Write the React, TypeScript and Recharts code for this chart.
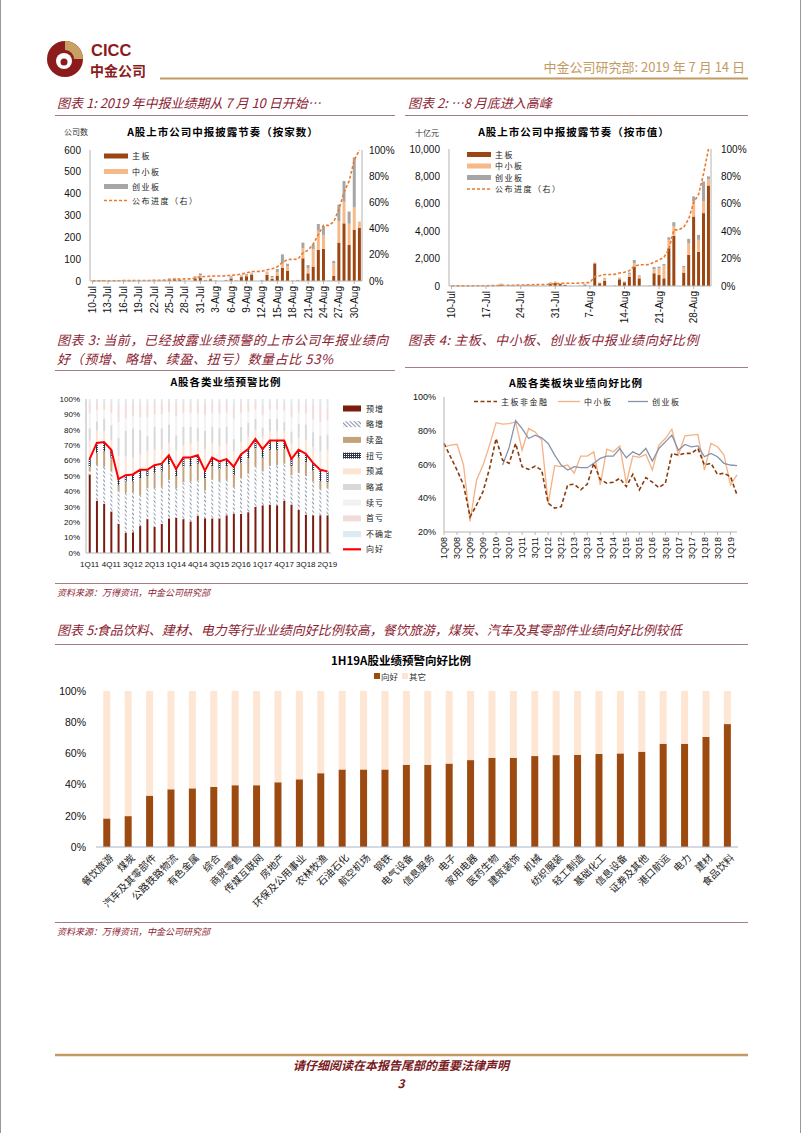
import React from "react";
import { ComposedChart, BarChart, LineChart, Bar, Line, XAxis, YAxis } from "recharts";

const CJK = '"Noto Sans CJK SC", "Noto Sans", sans-serif';
const LAT = '"Liberation Sans", Arial, sans-serif';
const RED = "#8B2332";
const GOLD = "#C39A62";
const RULE = "#A57D82";
const AXIS = "#B4B4B4";

// 图表1/2 日期
const days = [
  "10-Jul", "11-Jul", "12-Jul", "13-Jul", "14-Jul", "15-Jul", "16-Jul", "17-Jul", "18-Jul", "19-Jul", "20-Jul",
  "21-Jul", "22-Jul", "23-Jul", "24-Jul", "25-Jul", "26-Jul", "27-Jul", "28-Jul", "29-Jul", "30-Jul", "31-Jul",
  "1-Aug", "2-Aug", "3-Aug", "4-Aug", "5-Aug", "6-Aug", "7-Aug", "8-Aug", "9-Aug", "10-Aug", "11-Aug",
  "12-Aug", "13-Aug", "14-Aug", "15-Aug", "16-Aug", "17-Aug", "18-Aug", "19-Aug", "20-Aug", "21-Aug",
  "22-Aug", "23-Aug", "24-Aug", "25-Aug", "26-Aug", "27-Aug", "28-Aug", "29-Aug", "30-Aug", "31-Aug",
];

// 图表1 按家数
const cntMain = [1, 1, 2, 0, 0, 1, 2, 1, 0, 1, 0, 0, 2, 1, 3, 6, 8, 5, 1, 0, 12, 15, 3, 8, 1, 0, 3, 12, 2, 18, 22, 30, 0, 2, 28, 10, 25, 61, 47, 1, 3, 104, 35, 66, 142, 148, 1, 24, 176, 264, 165, 235, 244];
const cntSme = [1, 0, 1, 0, 0, 1, 1, 1, 1, 1, 0, 0, 1, 1, 2, 5, 4, 2, 1, 0, 7, 10, 1, 3, 1, 0, 1, 5, 1, 5, 6, 5, 0, 1, 12, 8, 15, 20, 22, 1, 1, 46, 23, 79, 88, 63, 1, 57, 99, 99, 97, 102, 28];
const cntGem = [0, 0, 0, 0, 0, 0, 1, 0, 0, 1, 0, 0, 1, 0, 1, 2, 2, 1, 0, 0, 3, 10, 1, 1, 1, 0, 1, 5, 0, 3, 4, 3, 0, 2, 3, 5, 15, 41, 10, 0, 1, 26, 15, 23, 31, 41, 0, 11, 75, 95, 56, 229, 0];
const cntProgress = [0.001, 0.001, 0.002, 0.002, 0.002, 0.002, 0.003, 0.003, 0.003, 0.004, 0.004, 0.004, 0.005, 0.005, 0.006, 0.009, 0.013, 0.015, 0.016, 0.016, 0.022, 0.032, 0.034, 0.037, 0.038, 0.038, 0.039, 0.045, 0.046, 0.053, 0.062, 0.073, 0.073, 0.074, 0.086, 0.093, 0.108, 0.142, 0.164, 0.165, 0.166, 0.215, 0.235, 0.282, 0.355, 0.425, 0.425, 0.451, 0.548, 0.676, 0.764, 0.924, 1.0];

// 图表2 按市值（十亿元）
const capMain = [8, 5, 10, 0, 0, 6, 12, 8, 6, 10, 90, 0, 30, 20, 30, 50, 40, 30, 0, 10, 180, 230, 150, 80, 10, 0, 20, 60, 10, 1650, 200, 370, 0, 20, 490, 270, 680, 1410, 560, 5, 20, 930, 800, 560, 2760, 3660, 5, 980, 2270, 5070, 2500, 5320, 7340];
const capSme = [3, 2, 4, 0, 0, 3, 5, 3, 2, 4, 60, 0, 20, 15, 15, 20, 15, 20, 0, 5, 60, 60, 40, 15, 5, 0, 10, 40, 5, 50, 50, 170, 0, 10, 100, 70, 200, 250, 170, 3, 10, 290, 490, 930, 610, 680, 5, 360, 850, 1100, 870, 850, 460];
const capGem = [2, 1, 2, 0, 0, 1, 2, 1, 1, 3, 20, 0, 10, 5, 5, 10, 5, 10, 0, 2, 30, 30, 10, 5, 2, 0, 5, 50, 2, 10, 10, 50, 0, 5, 20, 15, 100, 240, 50, 0, 5, 170, 120, 120, 190, 320, 0, 120, 320, 370, 360, 1460, 200];
const capProgress = [0.0005, 0.001, 0.001, 0.001, 0.001, 0.002, 0.002, 0.002, 0.003, 0.003, 0.005, 0.005, 0.006, 0.006, 0.007, 0.008, 0.009, 0.01, 0.01, 0.01, 0.013, 0.017, 0.019, 0.02, 0.02, 0.02, 0.021, 0.024, 0.025, 0.07, 0.075, 0.084, 0.084, 0.085, 0.095, 0.1, 0.112, 0.145, 0.155, 0.155, 0.156, 0.175, 0.19, 0.21, 0.27, 0.41, 0.41, 0.43, 0.49, 0.61, 0.67, 0.82, 1.0];

// 图表3 业绩预警比例（%）
const q3 = ["1Q11", "2Q11", "3Q11", "4Q11", "1Q12", "2Q12", "3Q12", "4Q12", "1Q13", "2Q13", "3Q13", "4Q13", "1Q14", "2Q14", "3Q14", "4Q14", "1Q15", "2Q15", "3Q15", "4Q15", "1Q16", "2Q16", "3Q16", "4Q16", "1Q17", "2Q17", "3Q17", "4Q17", "1Q18", "2Q18", "3Q18", "4Q18", "1Q19", "2Q19"];
const yuZeng = [51, 34, 32, 27, 19, 13, 13.5, 17.5, 22, 17, 19, 22.5, 23, 22, 20.5, 24, 22.5, 22.5, 22.5, 24.5, 25.5, 25.5, 26.5, 30, 31, 31.5, 31, 34, 31.5, 28, 25, 24.5, 24.5, 24.5];
const lueZeng = [2, 23, 24, 26, 21, 26, 26, 20, 20, 25, 24, 25, 19, 24, 26, 23, 18, 25, 24, 23, 17, 23, 25, 26, 22, 25, 26, 24, 19, 24, 25, 22, 17, 17.5];
const xuYing = [3, 8, 10, 9, 4, 7.5, 7, 11, 8, 10, 10, 10, 8, 10, 10, 11, 8, 9, 8, 9, 8, 10, 10, 12, 9, 10.5, 10, 9.5, 6, 10, 9, 7, 5, 4];
const niuKui = [5, 6.5, 6, 5, 4, 4, 4.5, 5.5, 4, 5, 5, 6, 4.5, 6, 5.5, 5.5, 5, 5.5, 5, 4.5, 5.5, 5.5, 6, 6, 5.5, 6, 6, 5.5, 4.5, 5, 5.5, 5, 7.5, 7];
const yuJian = [12, 8, 7, 6, 15, 12, 11, 10, 12, 10, 9, 8, 12, 8, 9, 9, 14, 9, 10, 10, 10, 8, 8, 6, 8, 6, 6, 6, 10, 8, 9, 10, 12, 14];
const lueJian = [8, 6, 8, 10, 12, 17, 19, 16, 10, 15, 14, 12, 10, 12, 11, 9, 12, 11, 12, 11, 8, 10, 9, 7, 6, 8, 8, 6, 8, 9, 10, 10, 10, 10];
const xuKui = [10, 7, 6, 8, 10, 8, 8, 8, 12, 8, 9, 8, 12, 9, 9, 9, 10, 9, 9, 9, 13, 9, 7, 6, 8, 6, 6, 7, 9, 7, 7, 8, 9, 9];
const shouKui = [6, 5.5, 5, 7, 11, 9.5, 9, 9, 9, 8, 8, 7, 9, 7, 7, 7, 8, 7, 7, 7, 9, 7, 6, 5, 7, 5, 5, 6, 8, 7, 7, 10, 11, 8];
const buQueDing = [3, 2, 2, 2, 4, 3, 2, 3, 3, 2, 2, 1.5, 2.5, 2, 2, 2.5, 2.5, 2, 2.5, 2, 4, 2, 2.5, 2, 3.5, 2, 2, 2, 4, 2, 2.5, 3.5, 4, 6];
const xiangHao = [61, 71.5, 72, 67, 48, 50.5, 51, 54, 54, 57, 58, 63.5, 54.5, 62, 62, 63.5, 53.5, 62, 59.5, 61, 56, 64, 67.5, 74, 67.5, 73, 73, 73, 61, 67, 64.5, 58.5, 54, 53];

// 图表4 板块向好比例（%）
const q4 = ["1Q08", "2Q08", "3Q08", "4Q08", "1Q09", "2Q09", "3Q09", "4Q09", "1Q10", "2Q10", "3Q10", "4Q10", "1Q11", "2Q11", "3Q11", "4Q11", "1Q12", "2Q12", "3Q12", "4Q12", "1Q13", "2Q13", "3Q13", "4Q13", "1Q14", "2Q14", "3Q14", "4Q14", "1Q15", "2Q15", "3Q15", "4Q15", "1Q16", "2Q16", "3Q16", "4Q16", "1Q17", "2Q17", "3Q17", "4Q17", "1Q18", "2Q18", "3Q18", "4Q18", "1Q19", "2Q19"];
const mainNonFin = [72.5, 64.6, 56.7, 47.9, 29, 36, 44, 57.7, 75.4, 62.6, 60.7, 72.5, 58.7, 57.1, 59, 56.7, 37, 34.1, 35.1, 47.9, 48.3, 45, 48.3, 60.7, 51.2, 48.9, 49.5, 51.8, 46.9, 54.2, 45, 52.2, 49.5, 46.3, 48.9, 66.6, 65.6, 66.6, 66.6, 69.5, 59.7, 60.7, 54.2, 54.8, 52.8, 42];
const smeBoard = [70.5, 71.5, 72, 59.7, 26.3, 50.8, 59.7, 71.5, 84.8, 83.9, 84.2, 85.2, 68.5, 81.3, 79.3, 74.4, 37, 59.3, 58.7, 59.7, 54.8, 65, 65, 67.5, 47.9, 69.1, 67.5, 70.9, 48.9, 65, 64.2, 66, 56.7, 71.5, 75.4, 80.9, 65.6, 77, 77.4, 77.8, 56.7, 72.5, 70.5, 65.6, 47.9, 53.8];
const gemBoard = [null, null, null, null, null, null, null, null, null, 59.7, 70, 86, 81.3, 75.4, 77.4, 75.8, 72.5, 65.6, 59.7, 56.7, 58.7, 58.1, 58.1, 60.7, 63.6, 65, 65, 69.5, 64, 67.5, 65.6, 69.5, 62, 69.5, 73.4, 77.4, 68.5, 71.9, 70.5, 71, 64.6, 66.6, 64.6, 60.7, 59.7, 59.3];

// 图表5 行业向好比例（%）
const industries = ["餐饮旅游", "煤炭", "汽车及其零部件", "公路铁路物流", "有色金属", "综合", "商贸零售", "传媒互联网", "房地产", "环保及公用事业", "农林牧渔", "石油石化", "航空机场", "钢铁", "电气设备", "信息服务", "电子", "家用电器", "医药生物", "建筑装饰", "机械", "纺织服装", "轻工制造", "基础化工", "信息设备", "证券及其他", "港口航运", "电力", "建材", "食品饮料"];
const goodShare = [18.3, 19.8, 32.9, 37, 37.6, 38.5, 39.6, 39.6, 41.5, 43.4, 47.3, 49.7, 49.7, 49.7, 52.7, 52.7, 53.5, 55.7, 57.2, 57.2, 58.3, 58.9, 59.1, 59.6, 60, 61.1, 66.2, 66.2, 70.5, 78.8];
const otherShare = [81.7, 80.2, 67.1, 63, 62.4, 61.5, 60.4, 60.4, 58.5, 56.6, 52.7, 50.3, 50.3, 50.3, 47.3, 47.3, 46.5, 44.3, 42.8, 42.8, 41.7, 41.1, 40.9, 40.4, 40, 38.9, 33.8, 33.8, 29.5, 21.2];

const data1 = days.map((d, i) => ({ day: d, main: cntMain[i], sme: cntSme[i], gem: cntGem[i], prog: cntProgress[i] }));
const data2 = days.map((d, i) => ({ day: d, main: capMain[i], sme: capSme[i], gem: capGem[i], prog: capProgress[i] }));
const data3 = q3.map((q, i) => ({
  q, yz: yuZeng[i], lz: lueZeng[i], xy: xuYing[i], nk: niuKui[i], yj: yuJian[i], lj: lueJian[i], xk: xuKui[i], sk: shouKui[i], bq: buQueDing[i], good: xiangHao[i],
}));
const data4 = q4.map((q, i) => ({ q, main: mainNonFin[i], sme: smeBoard[i], gem: gemBoard[i] }));
const data5 = industries.map((n, i) => ({ name: n, good: goodShare[i], other: otherShare[i] }));

const C_MAIN = "#9C4712";
const C_SME = "#F7B988";
const C_GEM = "#A6A6A6";
const C_PROG = "#EC7A2E";

const pct = (v: number) => `${Math.round(v * 100)}%`;
const pctN = (v: number) => `${v}%`;
const tickNum = (size: number) => ({ fontSize: size, fill: "#111", fontFamily: LAT });

function VTick(props: any) {
  const { x, y, payload, fs } = props;
  return (
    <text x={x} y={y} transform={`rotate(-90 ${x} ${y})`} textAnchor="end" dy="0.35em" fontSize={fs || 10} fontFamily={LAT} fill="#111">
      {payload.value}
    </text>
  );
}

function DTick(props: any) {
  const { x, y, payload } = props;
  const tx = x + 5;
  const ty = y + 1;
  return (
    <text x={tx} y={ty} transform={`rotate(-45 ${tx} ${ty})`} textAnchor="end" dy="0.35em" fontSize={10} fontFamily={CJK} fill="#222">
      {payload.value}
    </text>
  );
}

function Chart1() {
  return (
    <div style={{ position: "absolute", left: 55, top: 140 }}>
      <ComposedChart width={340} height={185} data={data1} margin={{ top: 10, right: 0, bottom: 4, left: 0 }} barCategoryGap="20%">
        <XAxis dataKey="day" interval={2} tick={(p: any) => <VTick {...p} />} height={40} tickSize={3} stroke={AXIS} />
        <YAxis yAxisId="l" domain={[0, 600]} ticks={[0, 100, 200, 300, 400, 500, 600]} width={35} tickSize={0} tickMargin={9} tick={tickNum(10)} stroke={AXIS} />
        <YAxis yAxisId="r" orientation="right" domain={[0, 1]} ticks={[0, 0.2, 0.4, 0.6, 0.8, 1]} tickFormatter={pct} width={33} tickSize={0} tickMargin={7} tick={tickNum(10)} stroke={AXIS} />
        <Bar yAxisId="l" dataKey="main" stackId="s" fill={C_MAIN} isAnimationActive={false} />
        <Bar yAxisId="l" dataKey="sme" stackId="s" fill={C_SME} isAnimationActive={false} />
        <Bar yAxisId="l" dataKey="gem" stackId="s" fill={C_GEM} isAnimationActive={false} />
        <Line yAxisId="r" dataKey="prog" type="linear" stroke={C_PROG} strokeWidth={1.6} strokeDasharray="3 2" dot={false} isAnimationActive={false} />
      </ComposedChart>
    </div>
  );
}

function Chart2() {
  return (
    <div style={{ position: "absolute", left: 400, top: 140 }}>
      <ComposedChart width={360} height={185} data={data2} margin={{ top: 9, right: 0, bottom: 2, left: 0 }} barCategoryGap="18%">
        <XAxis dataKey="day" interval={6} tick={(p: any) => <VTick {...p} />} height={37} tickSize={3} stroke={AXIS} />
        <YAxis yAxisId="l" domain={[0, 10000]} ticks={[0, 2000, 4000, 6000, 8000, 10000]} tickFormatter={(v: number) => v.toLocaleString("en-US")} width={49} tickSize={0} tickMargin={9} tick={tickNum(10)} stroke={AXIS} />
        <YAxis yAxisId="r" orientation="right" domain={[0, 1]} ticks={[0, 0.2, 0.4, 0.6, 0.8, 1]} tickFormatter={pct} width={49} tickSize={0} tickMargin={10} tick={tickNum(10)} stroke={AXIS} />
        <Bar yAxisId="l" dataKey="main" stackId="s" fill={C_MAIN} isAnimationActive={false} />
        <Bar yAxisId="l" dataKey="sme" stackId="s" fill={C_SME} isAnimationActive={false} />
        <Bar yAxisId="l" dataKey="gem" stackId="s" fill={C_GEM} isAnimationActive={false} />
        <Line yAxisId="r" dataKey="prog" type="linear" stroke={C_PROG} strokeWidth={1.6} strokeDasharray="3 2" dot={false} isAnimationActive={false} />
      </ComposedChart>
    </div>
  );
}

const C3 = {
  yz: "#7A1C0F", xy: "#C4A37B", yj: "#FCE4D4", lj: "#D9D9D9", xk: "#F2F2F2", sk: "#F2DCDB", bq: "#DCEBF1",
};

function Patterns({ p }: { p: string }) {
  return (
    <defs>
      <pattern id={`${p}hatch`} width="3" height="3" patternUnits="userSpaceOnUse" patternTransform="rotate(-45)">
        <rect width="3" height="3" fill="#fff" />
        <line x1="0.6" y1="0" x2="0.6" y2="3" stroke="#7E8AA2" strokeWidth="1" />
      </pattern>
      <pattern id={`${p}dots`} width="2" height="2" patternUnits="userSpaceOnUse">
        <rect width="2" height="2" fill="#2E3348" />
        <rect width="1" height="1" fill="#fff" />
      </pattern>
    </defs>
  );
}

function Chart3() {
  return (
    <div style={{ position: "absolute", left: 55, top: 390 }}>
      <ComposedChart width={285} height={180} data={data3} margin={{ top: 9, right: 9, bottom: 0, left: 0 }} barCategoryGap="38%">
        <Patterns p="c3" />
        <XAxis dataKey="q" interval={2} tick={tickNum(8)} tickLine={false} height={17} stroke={AXIS} />
        <YAxis domain={[0, 100]} ticks={[0, 10, 20, 30, 40, 50, 60, 70, 80, 90, 100]} tickFormatter={pctN} width={31} tickSize={0} tickMargin={6} tick={tickNum(8)} stroke={AXIS} />
        <Bar dataKey="yz" stackId="a" fill={C3.yz} isAnimationActive={false} />
        <Bar dataKey="lz" stackId="a" fill="url(#c3hatch)" isAnimationActive={false} />
        <Bar dataKey="xy" stackId="a" fill={C3.xy} isAnimationActive={false} />
        <Bar dataKey="nk" stackId="a" fill="url(#c3dots)" isAnimationActive={false} />
        <Bar dataKey="yj" stackId="a" fill={C3.yj} isAnimationActive={false} />
        <Bar dataKey="lj" stackId="a" fill={C3.lj} isAnimationActive={false} />
        <Bar dataKey="xk" stackId="a" fill={C3.xk} isAnimationActive={false} />
        <Bar dataKey="sk" stackId="a" fill={C3.sk} isAnimationActive={false} />
        <Bar dataKey="bq" stackId="a" fill={C3.bq} isAnimationActive={false} />
        <Line dataKey="good" type="linear" stroke="#FF0000" strokeWidth={2} dot={false} isAnimationActive={false} />
      </ComposedChart>
    </div>
  );
}

function Chart4() {
  return (
    <div style={{ position: "absolute", left: 400, top: 385 }}>
      <LineChart width={345} height={185} data={data4} margin={{ top: 12, right: 8, bottom: 0, left: 0 }}>
        <XAxis dataKey="q" interval={1} tick={(p: any) => <VTick {...p} fs={9} />} height={38} tickSize={3} stroke={AXIS} />
        <YAxis domain={[20, 100]} ticks={[20, 40, 60, 80, 100]} tickFormatter={pctN} width={44} tickSize={0} tickMargin={8} tick={tickNum(9)} stroke={AXIS} />
        <Line dataKey="sme" type="linear" stroke="#F4B183" strokeWidth={1.3} dot={false} isAnimationActive={false} />
        <Line dataKey="gem" type="linear" stroke="#8593AB" strokeWidth={1.3} dot={false} isAnimationActive={false} />
        <Line dataKey="main" type="linear" stroke="#8A3B0E" strokeWidth={1.6} strokeDasharray="4 2.5" dot={false} isAnimationActive={false} />
      </LineChart>
    </div>
  );
}

function Chart5() {
  return (
    <div style={{ position: "absolute", left: 55, top: 685 }}>
      <BarChart width={695} height={235} data={data5} margin={{ top: 6, right: 12, bottom: 0, left: 0 }} barCategoryGap="34%">
        <XAxis dataKey="name" interval={0} tick={(p: any) => <DTick {...p} />} height={73} tickLine={false} stroke="#A9B5C6" />
        <YAxis domain={[0, 100]} ticks={[0, 20, 40, 60, 80, 100]} tickFormatter={pctN} width={41} axisLine={false} tickSize={0} tickMargin={10} tick={tickNum(10.5)} />
        <Bar dataKey="good" stackId="a" fill="#9D4A10" isAnimationActive={false} />
        <Bar dataKey="other" stackId="a" fill="#FDE6D3" isAnimationActive={false} />
      </BarChart>
    </div>
  );
}

function BoardLegend({ x, ys }: { x: number; ys: number[] }) {
  const items = ["主板", "中小板", "创业板"];
  const cols = [C_MAIN, C_SME, C_GEM];
  return (
    <g fontFamily={CJK} fontSize={8} fill="#222" letterSpacing={1.5}>
      {items.map((t, i) => (
        <g key={t}>
          <rect x={x} y={ys[i] - 2.5} width={24} height={5} fill={cols[i]} />
          <text x={x + 28} y={ys[i] + 3}>{t}</text>
        </g>
      ))}
      <line x1={x} x2={x + 24} y1={ys[3]} y2={ys[3]} stroke={C_PROG} strokeWidth={1.5} strokeDasharray="3 2" />
      <text x={x + 28} y={ys[3] + 3}>公布进度（右）</text>
    </g>
  );
}

function Overlay() {
  const l3 = [
    { t: "预增", f: C3.yz }, { t: "略增", f: "url(#lghatch)" }, { t: "续盈", f: C3.xy }, { t: "扭亏", f: "url(#lgdots)" },
    { t: "预减", f: C3.yj }, { t: "略减", f: C3.lj }, { t: "续亏", f: C3.xk }, { t: "首亏", f: C3.sk }, { t: "不确定", f: C3.bq },
  ];
  const cap = { fontFamily: CJK, fontSize: 13, fontStyle: "italic" as const, fill: RED };
  return (
    <svg width={802} height={1133} style={{ position: "absolute", left: 0, top: 0, pointerEvents: "none" }}>
      <Patterns p="lg" />
      {/* 页边 */}
      <line x1={0.5} x2={0.5} y1={0} y2={1133} stroke="#999" />
      <line x1={800.5} x2={800.5} y1={0} y2={1133} stroke="#999" />

      {/* 页眉 */}
      <g>
        <circle cx={65} cy={59} r={18} fill="#8C1C1C" />
        <path d="M65,41 A18,18 0 0 1 83,59 L74,59 A9,9 0 0 0 65,50 Z" fill="#C9A063" />
        <circle cx={64} cy={61} r={8} fill="#fff" />
        <circle cx={64} cy={62} r={3.5} fill="#8C1C1C" />
      </g>
      <text x={91} y={56} fontFamily={LAT} fontWeight="bold" fontSize={16.5} fill="#8C1C1C">CICC</text>
      <text x={90} y={76} fontFamily={CJK} fontWeight="bold" fontSize={14} fill="#8C1C1C">中金公司</text>
      <text x={745} y={72} textAnchor="end" fontFamily={CJK} fontSize={13} fill={GOLD}>中金公司研究部: 2019 年 7 月 14 日</text>
      <line x1={160} x2={748} y1={78.5} y2={78.5} stroke={GOLD} strokeWidth={2} />

      {/* 图表1、2 */}
      <text x={57} y={108} {...cap}>图表 1: 2019 年中报业绩期从 7 月 10 日开始…</text>
      <line x1={55} x2={395} y1={115.5} y2={115.5} stroke={RULE} />
      <text x={408} y={108} {...cap}>图表 2:  …8 月底进入高峰</text>
      <line x1={405} x2={748} y1={115.5} y2={115.5} stroke={RULE} />

      <text x={64} y={135} fontFamily={CJK} fontSize={8} fill="#333">公司数</text>
      <text x={223} y={136} textAnchor="middle" fontFamily={CJK} fontSize={10.5} fontWeight="bold" letterSpacing={1}>A股上市公司中报披露节奏（按家数）</text>
      <BoardLegend x={104} ys={[156, 171.5, 186.5, 200.5]} />

      <text x={415} y={136} fontFamily={CJK} fontSize={8} fill="#333">十亿元</text>
      <text x={574} y={136} textAnchor="middle" fontFamily={CJK} fontSize={10.5} fontWeight="bold" letterSpacing={1}>A股上市公司中报披露节奏（按市值）</text>
      <BoardLegend x={467} ys={[154.5, 166, 177.5, 189]} />

      {/* 图表3、4 */}
      <text x={57} y={345} {...cap} letterSpacing={0.6}>图表 3: 当前，已经披露业绩预警的上市公司年报业绩向</text>
      <text x={57} y={364} {...cap} letterSpacing={0.6}>好（预增、略增、续盈、扭亏）数量占比 53%</text>
      <line x1={55} x2={395} y1={370.5} y2={370.5} stroke={RULE} />
      <text x={408} y={345} {...cap} letterSpacing={0.6}>图表 4: 主板、中小板、创业板中报业绩向好比例</text>
      <line x1={405} x2={748} y1={367.5} y2={367.5} stroke={RULE} />

      <text x={226} y={386} textAnchor="middle" fontFamily={CJK} fontSize={10.5} fontWeight="bold" letterSpacing={1}>A股各类业绩预警比例</text>
      <g fontFamily={CJK} fontSize={8} fill="#222" letterSpacing={1}>
        {l3.map((it, i) => (
          <g key={it.t}>
            <rect x={343} y={405.5 + i * 15.7} width={18} height={6} fill={it.f} />
            <text x={366} y={411.5 + i * 15.7}>{it.t}</text>
          </g>
        ))}
        <line x1={343} x2={361} y1={549.3} y2={549.3} stroke="#FF0000" strokeWidth={2.2} />
        <text x={366} y={552.3}>向好</text>
      </g>

      <text x={576} y={387} textAnchor="middle" fontFamily={CJK} fontSize={10.5} fontWeight="bold" letterSpacing={1}>A股各类板块业绩向好比例</text>
      <g fontFamily={CJK} fontSize={8} fill="#222" letterSpacing={1.5}>
        <line x1={474} x2={497} y1={401.5} y2={401.5} stroke="#8A3B0E" strokeWidth={1.6} strokeDasharray="4 2.5" />
        <text x={501} y={404.5}>主板非金融</text>
        <line x1={558} x2={580} y1={401.5} y2={401.5} stroke="#F4B183" strokeWidth={1.3} />
        <text x={584} y={404.5}>中小板</text>
        <line x1={628} x2={648} y1={401.5} y2={401.5} stroke="#8593AB" strokeWidth={1.3} />
        <text x={652} y={404.5}>创业板</text>
      </g>

      <line x1={55} x2={748} y1={583.5} y2={583.5} stroke={RULE} />
      <text x={57} y={596} fontFamily={CJK} fontSize={9} fontStyle="italic" fill={RED}>资料来源：万得资讯，中金公司研究部</text>

      {/* 图表5 */}
      <text x={57} y={635} {...cap}>图表 5:食品饮料、建材、电力等行业业绩向好比例较高，餐饮旅游，煤炭、汽车及其零部件业绩向好比例较低</text>
      <line x1={55} x2={748} y1={644.5} y2={644.5} stroke={RULE} />
      <text x={401} y={665} textAnchor="middle" fontFamily={CJK} fontSize={11.5} fontWeight="bold">1H19A股业绩预警向好比例</text>
      <g fontFamily={CJK} fontSize={8.5} fill="#333">
        <rect x={374} y={673} width={6} height={6} fill="#9D4A10" />
        <text x={381} y={679.5}>向好</text>
        <rect x={402} y={673} width={6} height={6} fill="#FDE6D3" />
        <text x={409} y={679.5}>其它</text>
      </g>

      <line x1={55} x2={748} y1={922.5} y2={922.5} stroke={RULE} />
      <text x={57} y={935} fontFamily={CJK} fontSize={9} fontStyle="italic" fill={RED}>资料来源：万得资讯，中金公司研究部</text>

      {/* 页脚 */}
      <line x1={55} x2={748} y1={1055} y2={1055} stroke={GOLD} strokeWidth={2.5} />
      <text x={401} y={1070} textAnchor="middle" fontFamily={CJK} fontSize={12} fontStyle="italic" fontWeight="bold" fill="#7A1A22">请仔细阅读在本报告尾部的重要法律声明</text>
      <text x={401} y={1088} textAnchor="middle" fontFamily={CJK} fontSize={12} fontStyle="italic" fontWeight="bold" fill="#7A1A22">3</text>
    </svg>
  );
}

export default function App() {
  return (
    <div style={{ position: "absolute", left: 0, top: 0, width: 802, height: 1133, background: "#fff", overflow: "hidden" }}>
      <Chart1 />
      <Chart2 />
      <Chart3 />
      <Chart4 />
      <Chart5 />
      <Overlay />
    </div>
  );
}
